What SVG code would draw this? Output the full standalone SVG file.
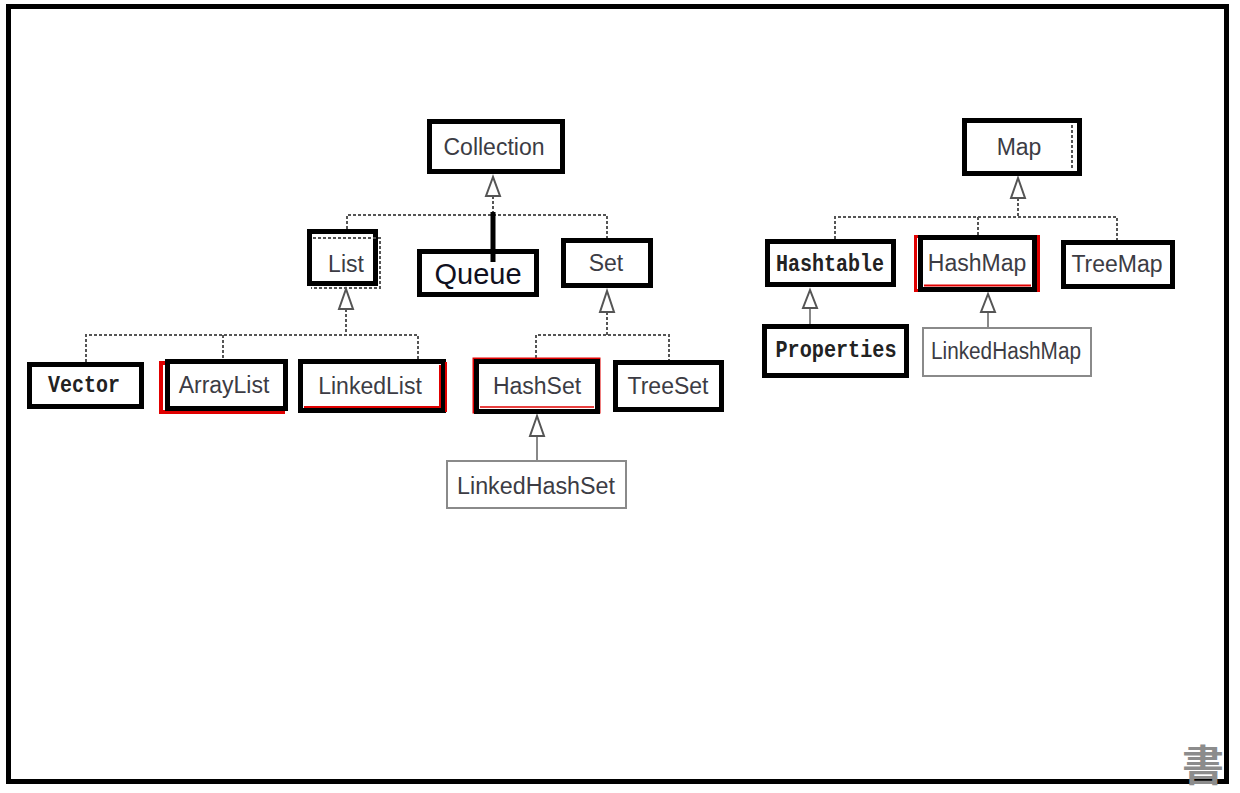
<svg xmlns="http://www.w3.org/2000/svg" width="1240" height="793" viewBox="0 0 1240 793">
<style>
.b{fill:#fff;stroke:#000;stroke-width:5}
.r{fill:none;stroke:#e00000;stroke-width:3}
.g{fill:#fff;stroke:#8a8a8a;stroke-width:2}
.t{font-family:"Liberation Sans",Arial,sans-serif;font-size:23px;fill:#3c3c44;text-anchor:middle}
.q{font-family:"Liberation Sans",Arial,sans-serif;font-size:29px;fill:#101020;text-anchor:middle}
.m{font-family:"Liberation Mono","Courier New",monospace;font-weight:bold;font-size:23px;fill:#222;text-anchor:middle}
.d{stroke:#555;stroke-width:2;stroke-dasharray:3 2;fill:none}
.s{stroke:#888;stroke-width:2;fill:none}
.a{fill:#fff;stroke:#555;stroke-width:2}
</style>
<rect x="0" y="0" width="1240" height="793" fill="#fff"/>
<rect x="8.5" y="6.5" width="1218" height="775" fill="none" stroke="#000" stroke-width="5"/>

<g id="connectors">
  <!-- Collection -->
  <polyline class="d" points="493,196 493,215"/>
  <polyline class="d" points="347,229 347,215 607,215 607,238"/>
  <line x1="493" y1="212" x2="493" y2="262" stroke="#000" stroke-width="5"/>
  <polygon class="a" points="493,177 486,196 500,196"/>
  <!-- List -->
  <polyline class="d" points="346,309 346,335"/>
  <polyline class="d" points="86,362 86,335 418,335 418,359"/>
  <line class="d" x1="223" y1="335" x2="223" y2="359"/>
  <polygon class="a" points="346,289 339,309 353,309"/>
  <!-- Set -->
  <polyline class="d" points="607,312 607,335"/>
  <polyline class="d" points="536,358 536,335 669,335 669,360"/>
  <polygon class="a" points="607,291 600,312 614,312"/>
  <!-- HashSet -> LinkedHashSet -->
  <line class="s" x1="537" y1="436" x2="537" y2="461"/>
  <polygon class="a" points="537,416 530,436 544,436"/>
  <!-- Map -->
  <polyline class="d" points="1018,198 1018,217"/>
  <polyline class="d" points="835,239 835,217 1117,217 1117,240"/>
  <line class="d" x1="978" y1="217" x2="978" y2="235"/>
  <polygon class="a" points="1018,178 1011,198 1025,198"/>
  <!-- Hashtable -> Properties -->
  <line class="s" x1="810" y1="308" x2="810" y2="324"/>
  <polygon class="a" points="810,290 803,308 817,308"/>
  <!-- HashMap -> LinkedHashMap -->
  <line class="s" x1="988" y1="312" x2="988" y2="327"/>
  <polygon class="a" points="988,294 981,312 995,312"/>
</g>

<g id="Collection">
  <rect class="b" x="429.5" y="121.5" width="133" height="50"/>
  <text class="t" x="494" y="155">Collection</text>
</g>
<g id="Map">
  <rect class="b" x="964.5" y="120.5" width="115" height="53"/>
  <line class="d" x1="1072" y1="125" x2="1072" y2="170"/>
  <text class="t" x="1019" y="155">Map</text>
</g>
<g id="List">
  <rect class="b" x="309.5" y="231.5" width="66" height="52"/>
  <polyline class="d" points="313,238 380,238 380,288 311,288"/>
  <text class="t" x="346" y="272">List</text>
</g>
<g id="Queue">
  <rect class="b" x="419.5" y="251.5" width="117" height="43"/>
  <line x1="493" y1="249" x2="493" y2="262" stroke="#000" stroke-width="5"/>
  <text class="q" x="478" y="284">Queue</text>
</g>
<g id="Set">
  <rect class="b" x="563.5" y="240.5" width="87" height="45"/>
  <text class="t" x="606" y="271">Set</text>
</g>
<g id="Hashtable">
  <rect class="b" x="767.5" y="241.5" width="126" height="43"/>
  <text class="m" x="830" y="271" textLength="108" lengthAdjust="spacingAndGlyphs">Hashtable</text>
</g>
<g id="HashMap">
  <rect class="r" x="915.5" y="236.5" width="123" height="54"/>
  <rect class="b" x="920.5" y="237.5" width="114" height="52"/>
  <line x1="924" y1="285.5" x2="1031" y2="285.5" stroke="#e00000" stroke-width="2"/>
  <text class="t" x="977" y="271">HashMap</text>
</g>
<g id="TreeMap">
  <rect class="b" x="1063.5" y="242.5" width="109" height="44"/>
  <text class="t" x="1117" y="272">TreeMap</text>
</g>
<g id="Properties">
  <rect class="b" x="764.5" y="326.5" width="142" height="49"/>
  <text class="m" x="836" y="357" textLength="121" lengthAdjust="spacingAndGlyphs">Properties</text>
</g>
<g id="LinkedHashMap">
  <rect class="g" x="923" y="328" width="168" height="48"/>
  <text class="t" x="1006" y="359" textLength="150" lengthAdjust="spacingAndGlyphs">LinkedHashMap</text>
</g>
<g id="Vector">
  <rect class="b" x="29.5" y="364.5" width="112" height="42"/>
  <text class="m" x="84" y="392" textLength="72" lengthAdjust="spacingAndGlyphs">Vector</text>
</g>
<g id="ArrayList">
  <rect x="161" y="363" width="122" height="49" fill="none" stroke="#e00000" stroke-width="4"/>
  <rect class="b" x="167.5" y="361.5" width="118" height="47"/>
  <text class="t" x="224" y="393">ArrayList</text>
</g>
<g id="LinkedList">
  <rect class="b" x="300.5" y="361.5" width="143" height="49"/>
  <polyline points="304,407 440,407 440,365" fill="none" stroke="#e00000" stroke-width="2"/>
  <line x1="446" y1="362" x2="446" y2="412" stroke="#e00000" stroke-width="2"/>
  <text class="t" x="370" y="394">LinkedList</text>
</g>
<g id="HashSet">
  <rect x="473.5" y="358.5" width="126" height="54" fill="none" stroke="#e00000" stroke-width="2"/>
  <rect class="b" x="476.5" y="361.5" width="121" height="50"/>
  <line x1="480" y1="407" x2="594" y2="407" stroke="#e00000" stroke-width="1.5"/>
  <text class="t" x="537" y="394">HashSet</text>
</g>
<g id="TreeSet">
  <rect class="b" x="615.5" y="362.5" width="106" height="47"/>
  <text class="t" x="668" y="394">TreeSet</text>
</g>
<g id="LinkedHashSet">
  <rect class="g" x="447" y="461" width="179" height="47"/>
  <text class="t" x="536" y="494" textLength="158" lengthAdjust="spacingAndGlyphs">LinkedHashSet</text>
</g>

<text x="1203" y="781" font-family="'Noto Sans CJK TC','Noto Sans CJK SC',sans-serif" font-size="42" font-weight="bold" fill="#8c8c8c" text-anchor="middle">書</text>
</svg>
